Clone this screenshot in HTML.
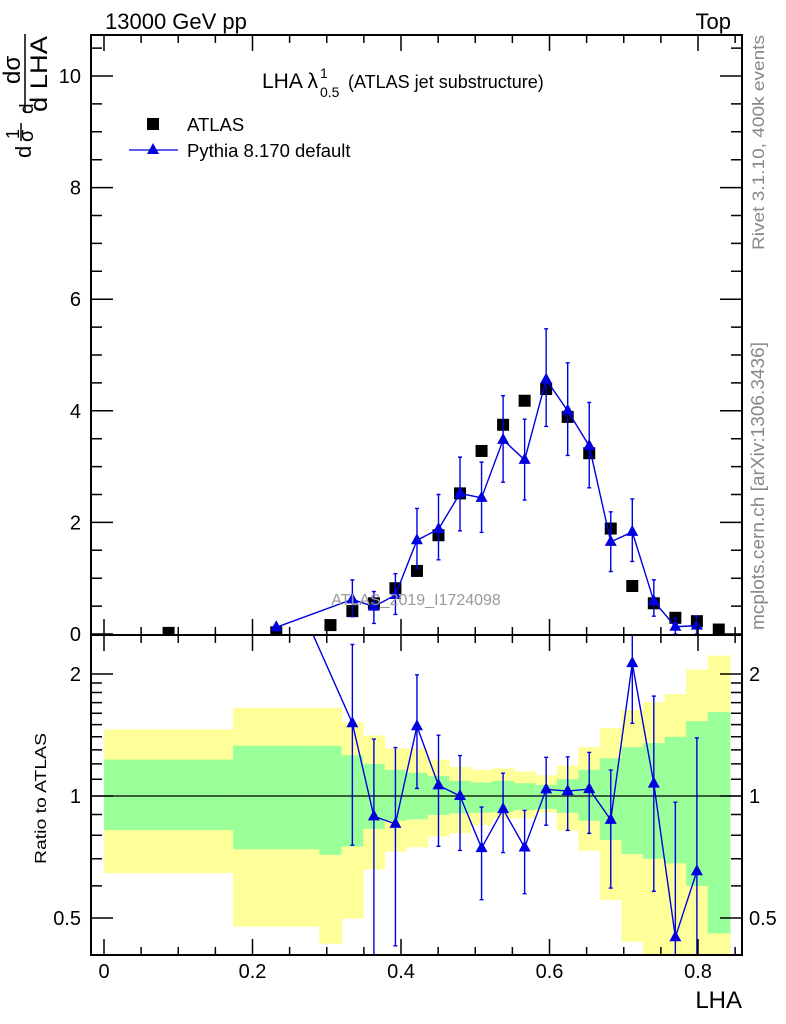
<!DOCTYPE html>
<html><head><meta charset="utf-8"><style>
html,body{margin:0;padding:0;background:#fff;overflow:hidden;width:786px;height:1024px;}
svg{display:block;font-family:"Liberation Sans",sans-serif;}
</style></head><body>
<svg id="chart" width="786" height="1024" viewBox="0 0 786 1024" xmlns="http://www.w3.org/2000/svg">
<defs>
<clipPath id="clipMain"><rect x="91" y="35" width="651" height="600"/></clipPath>
<clipPath id="clipRatio"><rect x="91" y="635" width="651" height="320"/></clipPath>
</defs>
<g id="ratioBands" clip-path="url(#clipRatio)"></g>
<g id="ratioLayer" clip-path="url(#clipRatio)"></g>
<g id="mainLayer" clip-path="url(#clipMain)"></g>
<g id="axes"></g>
<text x="105" y="29" font-size="22">13000 GeV pp</text>
<text x="731" y="29" font-size="22" text-anchor="end">Top</text>
<g>
<text x="262" y="88" font-size="21">LHA λ</text>
<text x="320" y="78" font-size="14">1</text>
<text x="320" y="97" font-size="14">0.5</text>
<text x="348" y="88" font-size="18">(ATLAS jet substructure)</text>
</g>
<rect x="147" y="118" width="12" height="12" fill="#000"/>
<text x="187" y="131" font-size="18.5">ATLAS</text>
<line x1="129" y1="150" x2="178" y2="150" stroke="#0000e0" stroke-width="1.3"/>
<polygon points="153,143 159,154 147,154" fill="#0000e0"/>
<text x="187" y="157" font-size="18.5">Pythia 8.170 default</text>
<text x="416" y="605" font-size="16" fill="#999" text-anchor="middle">ATLAS_2019_I1724098</text>
<text transform="translate(764,250) rotate(-90)" font-size="17" fill="#888" textLength="215" lengthAdjust="spacingAndGlyphs">Rivet 3.1.10,  400k events</text>
<text transform="translate(764,630) rotate(-90)" font-size="18" fill="#888" textLength="288" lengthAdjust="spacingAndGlyphs">mcplots.cern.ch [arXiv:1306.3436]</text>
<g>
<text transform="translate(47,112) rotate(-90)" font-size="24" textLength="76" lengthAdjust="spacingAndGlyphs">d LHA</text>
<line x1="25" y1="34" x2="25" y2="112" stroke="#000" stroke-width="1.5"/>
<text transform="translate(20,84) rotate(-90)" font-size="24">dσ</text>
<text transform="translate(33,114) rotate(-90)" font-size="19">d</text>
<text transform="translate(19,139) rotate(-90)" font-size="18">1</text>
<line x1="21" y1="123" x2="21" y2="141" stroke="#000" stroke-width="1.5"/>
<text transform="translate(33,142) rotate(-90)" font-size="20">σ</text>
<text transform="translate(31,158) rotate(-90)" font-size="22">d</text>
</g>
<text transform="translate(46,864) rotate(-90)" font-size="16" textLength="131" lengthAdjust="spacingAndGlyphs">Ratio to ATLAS</text>
<text x="742" y="1008" font-size="24" text-anchor="end">LHA</text>
</svg>
<script>
const binEdges=[0,0.174,0.29,0.32,0.349,0.378,0.407,0.436,0.465,0.494,0.523,0.552,0.581,0.61,0.639,0.668,0.697,0.726,0.755,0.784,0.813,0.843];
const atlasValues=[0.02,0.03,0.16,0.41,0.55,0.82,1.13,1.77,2.52,3.28,3.75,4.18,4.39,3.89,3.24,1.89,0.86,0.55,0.29,0.23,0.08];
const pythiaValues=[null,0.12,null,0.62,0.49,0.70,1.68,1.88,2.52,2.44,3.48,3.12,4.56,4.0,3.37,1.65,1.83,0.59,0.13,0.15,null];
const pythiaErrUp=[null,0.0,null,0.35,0.27,0.38,0.57,0.62,0.65,0.64,0.79,0.73,0.91,0.86,0.78,0.54,0.59,0.38,0.15,0.17,null];
const pythiaErrDown=[null,0.0,null,0.31,0.30,0.35,0.50,0.55,0.67,0.62,0.76,0.72,0.84,0.80,0.75,0.53,0.53,0.27,0.13,0.15,null];
const bandYellowHi=[1.46,1.65,1.65,1.52,1.41,1.31,1.31,1.23,1.18,1.16,1.17,1.15,1.125,1.19,1.32,1.47,1.63,1.705,1.785,2.05,2.22];
const bandGreenHi=[1.23,1.33,1.33,1.26,1.20,1.16,1.14,1.12,1.09,1.08,1.09,1.075,1.065,1.10,1.16,1.24,1.32,1.35,1.40,1.53,1.61];
const bandGreenLo=[0.824,0.739,0.716,0.75,0.829,0.869,0.876,0.898,0.906,0.909,0.913,0.923,0.929,0.909,0.869,0.779,0.719,0.70,0.682,0.60,0.458];
const bandYellowLo=[0.645,0.476,0.432,0.498,0.659,0.729,0.747,0.794,0.809,0.848,0.881,0.881,0.909,0.821,0.733,0.554,0.437,0.3,0.3,0.3,0.3];
const mainTicks=[0,2,4,6,8,10];
const ratioTicks=[0.5,1,2];
const xTicks=[0,0.2,0.4,0.6,0.8];

const NS="http://www.w3.org/2000/svg";
const X=v=>104+742.5*v;
const YM=v=>634-55.8*Math.max(v,-0.05);
const YR=r=>796-122*Math.log2(Math.min(Math.max(r,0.38),2.7));
function mk(parent,tag,attrs){const e=document.createElementNS(NS,tag);for(const k in attrs)e.setAttribute(k,attrs[k]);parent.appendChild(e);return e;}
const bands=document.getElementById('ratioBands');
const ratioL=document.getElementById('ratioLayer');
const mainL=document.getElementById('mainLayer');
const axes=document.getElementById('axes');
const BLUE="#0000e0";
const centers=atlasValues.map((_,i)=>(binEdges[i]+binEdges[i+1])/2);

for(let i=0;i<atlasValues.length;i++){
  const x0=X(binEdges[i]),x1=X(binEdges[i+1]);
  const y=mk(bands,'rect',{x:x0,y:YR(bandYellowHi[i]),width:x1-x0+0.5,height:YR(bandYellowLo[i])-YR(bandYellowHi[i]),fill:'#ffff99'});
  
  
  const g=mk(bands,'rect',{x:x0,y:YR(bandGreenHi[i]),width:x1-x0+0.5,height:YR(bandGreenLo[i])-YR(bandGreenHi[i]),fill:'#99ff99'});
  
  
}
const one=mk(ratioL,'line',{x1:91,x2:742,y1:YR(1),y2:YR(1),stroke:'#000','stroke-width':1.3});



for(let i=0;i<atlasValues.length;i++){
  const s=mk(mainL,'rect',{x:X(centers[i])-6,y:YM(atlasValues[i])-6,width:12,height:12,fill:'#000'});
  
  
}
// ratio line: compute unclipped positions, then clip segment into the panel via clipPath
const YRraw=r=>796-122*Math.log2(r);
const ptsM=[],ptsR=[];
let prev=null;
for(let i=0;i<pythiaValues.length;i++){
  const v=pythiaValues[i]; if(v===null) continue;
  const cx=X(centers[i]); const cy=YM(v);
  ptsM.push(cx+','+cy);
  let ry=YRraw(v/atlasValues[i]);
  if(ry<600 && prev===null){ ry=ry; }
  ptsR.push([cx,ry]);
  prev=ry;
}
// trim first segment to panel top to avoid overflow
const rp=ptsR.map(p=>p.slice());
if(rp.length>1 && rp[0][1]<634){
  const [x0,y0]=rp[0],[x1,y1]=rp[1];
  const f=(634-y0)/(y1-y0);
  rp[0]=[x0+f*(x1-x0),634];
}
const lm=mk(mainL,'polyline',{points:ptsM.join(' '),fill:'none',stroke:BLUE,'stroke-width':1.4});


const lr=mk(ratioL,'polyline',{points:rp.map(p=>p.join(',')).join(' '),fill:'none',stroke:BLUE,'stroke-width':1.4});


for(let i=0;i<pythiaValues.length;i++){
  const v=pythiaValues[i]; if(v===null) continue;
  const cx=X(centers[i]);
  const hi=v+pythiaErrUp[i], lo=Math.max(v-pythiaErrDown[i],0.0001);
  if(pythiaErrUp[i]>0){
    const e=mk(mainL,'path',{d:`M${cx},${YM(hi)}V${YM(lo)}M${cx-2},${YM(hi)}h4M${cx-2},${YM(lo)}h4`,stroke:BLUE,'stroke-width':1.4,fill:'none'});
    
    
  }
  const cy=YM(v);
  const t=mk(mainL,'polygon',{points:`${cx},${cy-7} ${cx+6},${cy+4} ${cx-6},${cy+4}`,fill:BLUE});
  
  
  const a=atlasValues[i], r=v/a, rh=hi/a, rl=lo/a;
  if(r>2.6) continue;
  if(pythiaErrUp[i]>0){
    const er=mk(ratioL,'path',{d:`M${cx},${YR(rh)}V${YR(rl)}`+(rh<2.6?`M${cx-2},${YR(rh)}h4`:'')+(rl>0.39?`M${cx-2},${YR(rl)}h4`:''),stroke:BLUE,'stroke-width':1.4,fill:'none'});
    
    
  }
  const ry=YR(r);
  const tr=mk(ratioL,'polygon',{points:`${cx},${ry-7} ${cx+6},${ry+4} ${cx-6},${ry+4}`,fill:BLUE});
  
  
}

const f1=mk(axes,'rect',{x:91,y:35,width:651,height:600,fill:'none',stroke:'#000','stroke-width':2});


const f2=mk(axes,'rect',{x:91,y:635,width:651,height:320,fill:'none',stroke:'#000','stroke-width':2});


let d='';
for(let k=0;k<=17;k++){
  const v=k*0.05; const x=X(v); if(x>741) break;
  const major=(k%4===0); const L=major?16:8;
  d+=`M${x},955v${-L}M${x},635v${-L}M${x},35v${L}M${x},635v${L}`;
}
for(let k=0;k<=21;k++){
  const v=k*0.5; const y=YM(v); if(y<36) break;
  const major=(k%4===0); const L=major?22:11;
  d+=`M91,${y}h${L}M742,${y}h${-L}`;
}
const rminor=[0.5,0.6,0.7,0.8,0.9,1,1.1,1.2,1.3,1.4,1.5,1.6,1.7,1.8,1.9,2];
rminor.forEach(r=>{const y=YR(r);const major=ratioTicks.includes(r);const L=major?22:11;d+=`M91,${y}h${L}M742,${y}h${-L}`;});
const tk=mk(axes,'path',{d:d,stroke:'#000','stroke-width':1.5,fill:'none'});


xTicks.forEach(v=>{
  const t=mk(axes,'text',{x:X(v),y:978,'font-size':20,'text-anchor':'middle'});
  t.textContent=String(v);
  
  
});
mainTicks.forEach(v=>{
  const t=mk(axes,'text',{x:81,y:YM(v)+7,'font-size':20,'text-anchor':'end'});
  t.textContent=String(v);
  
  
});
ratioTicks.forEach(v=>{
  const t=mk(axes,'text',{x:81,y:YR(v)+7,'font-size':20,'text-anchor':'end'});
  t.textContent=String(v);
  
  
  const t2=mk(axes,'text',{x:749,y:YR(v)+7,'font-size':20,'text-anchor':'start'});
  t2.textContent=String(v);
  
  
});
</script>
</body></html>
